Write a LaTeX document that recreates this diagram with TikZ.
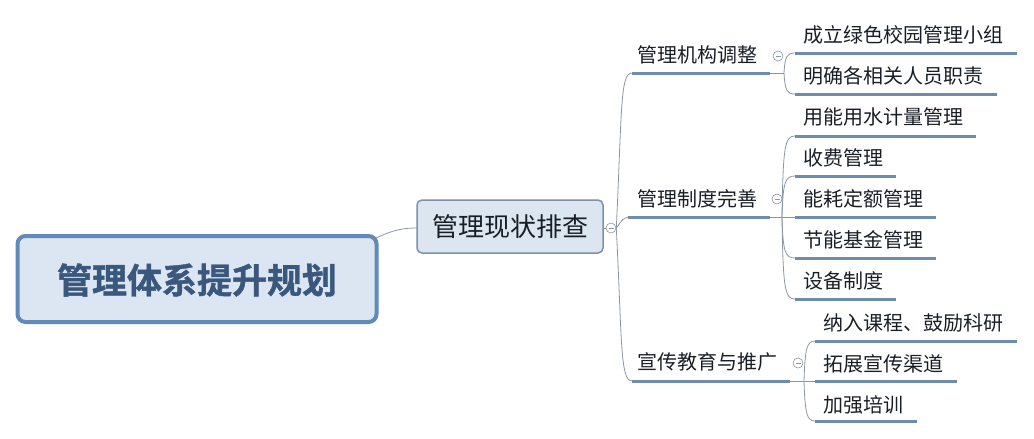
\documentclass[tikz,border=0pt]{standalone}
\usepackage{fontspec}
\newfontfamily\cjk{Noto Sans CJK SC}
\newfontfamily\cjkb[FakeBold=1.2]{Noto Sans CJK SC Bold}
\definecolor{rootborder}{RGB}{96,138,186}
\definecolor{rootfill}{RGB}{220,230,242}
\definecolor{roottext}{RGB}{58,88,125}
\definecolor{lonefill}{RGB}{220,230,241}
\definecolor{loneborder}{RGB}{125,145,170}
\definecolor{txt}{RGB}{25,30,38}
\definecolor{uline}{RGB}{110,140,172}
\definecolor{thin}{RGB}{140,150,162}
\tikzset{
  rootbox/.style={draw=rootborder,line width=4pt,fill=rootfill,rounded corners=8pt,inner sep=0pt},
  lonebox/.style={draw=loneborder,line width=1.5pt,fill=lonefill,rounded corners=5pt,inner sep=0pt},
  lab/.style={anchor=west,inner sep=0pt,text=txt,font=\cjk\fontsize{20}{22}\selectfont},
  under/.style={draw=uline,line width=3pt},
  conn/.style={draw=thin,line width=0.8pt},
  fold/.style={circle,draw=thin,fill=white,line width=0.6pt,minimum size=10pt,inner sep=0pt,
    path picture={\draw[thin,line width=0.7pt] ([xshift=-2.5pt]path picture bounding box.center) -- ([xshift=2.5pt]path picture bounding box.center);}}
}
\begin{document}
\begin{tikzpicture}[x=1pt,y=-1pt]
\useasboundingbox (0,0) rectangle (1034,439);
% root
\node[rootbox,minimum width=359pt,minimum height=86pt] (root) at (197,279) {};
\node[inner sep=0pt,text=roottext,font=\cjkb\fontsize{35}{38}\selectfont] (roottxt) at (197,280) {管理体系提升规划};
% level 1
\node[lonebox,minimum width=186pt,minimum height=53pt] (l1) at (510,226.5) {};
\node[inner sep=0pt,text=txt,font=\cjk\fontsize{26}{28}\selectfont] (l1txt) at (510,227) {管理现状排查};
\coordinate (rootout) at (376,238);
\coordinate (l1in) at (417.5,228);
\draw[conn] (rootout) .. controls (395,229) and (405,228) .. (l1in);
\node[fold] (f1) at (611,228) {};
\draw[conn] (l1.east |- f1) -- (f1.west);
% level 2 anchor points
\coordinate (tA) at (632,73);
\coordinate (tB) at (628,217);
\coordinate (tC) at (632,381);
\draw[conn] (f1.east) .. controls (619,226) and (619,220) .. (tB);
\draw[conn] (f1.east) .. controls (622,110) and (620,73) .. (tA);
\draw[conn] (f1.east) .. controls (622,340) and (620,381) .. (tC);
% level 2 labels
\node[lab] (a) at (637,55) {管理机构调整};
\node[lab] (b) at (637,199) {管理制度完善};
\node[lab] (c) at (637,362) {宣传教育与推广};
\coordinate (aE) at (770,73);
\coordinate (bE) at (770,217);
\coordinate (cE) at (790,381);
\draw[under] (tA) -- (aE);
\draw[under] (tB) -- (bE);
\draw[under] (tC) -- (cE);
\node[fold] (fa) at (778,56) {};
\node[fold] (fb) at (777,199) {};
\node[fold] (fc) at (798,363) {};
\coordinate (jA) at (784,73);
\coordinate (jB) at (782,217);
\coordinate (jC) at (804,381);
\draw[conn] (aE) -- (jA);
\draw[conn] (bE) -- (jB);
\draw[conn] (cE) -- (jC);
% level 3 group A
\node[lab] (a1) at (803,35) {成立绿色校园管理小组};
\node[lab] (a2) at (803,76) {明确各相关人员职责};
\coordinate (a1s) at (795,53); \coordinate (a1e) at (1017,53);
\coordinate (a2s) at (795,94); \coordinate (a2e) at (997,94);
\draw[under] (a1s) -- (a1e);
\draw[under] (a2s) -- (a2e);
\draw[conn] (jA) .. controls (785,56) and (787,53) .. (a1s);
\draw[conn] (jA) .. controls (785,91) and (787,94) .. (a2s);
% group B
\node[lab] (b1) at (803,117) {用能用水计量管理};
\node[lab] (b2) at (803,158) {收费管理};
\node[lab] (b3) at (803,199) {能耗定额管理};
\node[lab] (b4) at (803,240) {节能基金管理};
\node[lab] (b5) at (803,281) {设备制度};
\coordinate (b1s) at (795,136); \coordinate (b1e) at (976,136);
\coordinate (b2s) at (795,176); \coordinate (b2e) at (896,176);
\coordinate (b3s) at (795,217); \coordinate (b3e) at (936,217);
\coordinate (b4s) at (795,258); \coordinate (b4e) at (936,258);
\coordinate (b5s) at (795,299); \coordinate (b5e) at (896,299);
\foreach \i in {1,...,5} {\draw[under] (b\i s) -- (b\i e);}
\draw[conn] (jB) .. controls (783,145) and (785,136) .. (b1s);
\draw[conn] (jB) .. controls (783,182) and (785,176) .. (b2s);
\draw[conn] (jB) -- (b3s);
\draw[conn] (jB) .. controls (783,252) and (785,258) .. (b4s);
\draw[conn] (jB) .. controls (783,290) and (785,299) .. (b5s);
% group C
\node[lab] (c1) at (823,323) {纳入课程、鼓励科研};
\node[lab] (c2) at (823,364) {拓展宣传渠道};
\node[lab] (c3) at (823,405) {加强培训};
\coordinate (c1s) at (815,341); \coordinate (c1e) at (1017,341);
\coordinate (c2s) at (815,381); \coordinate (c2e) at (957,381);
\coordinate (c3s) at (815,421); \coordinate (c3e) at (917,421);
\foreach \i in {1,2,3} {\draw[under] (c\i s) -- (c\i e);}
\draw[conn] (jC) .. controls (805,348) and (807,341) .. (c1s);
\draw[conn] (jC) -- (c2s);
\draw[conn] (jC) .. controls (805,414) and (807,421) .. (c3s);
\end{tikzpicture}
\end{document}
